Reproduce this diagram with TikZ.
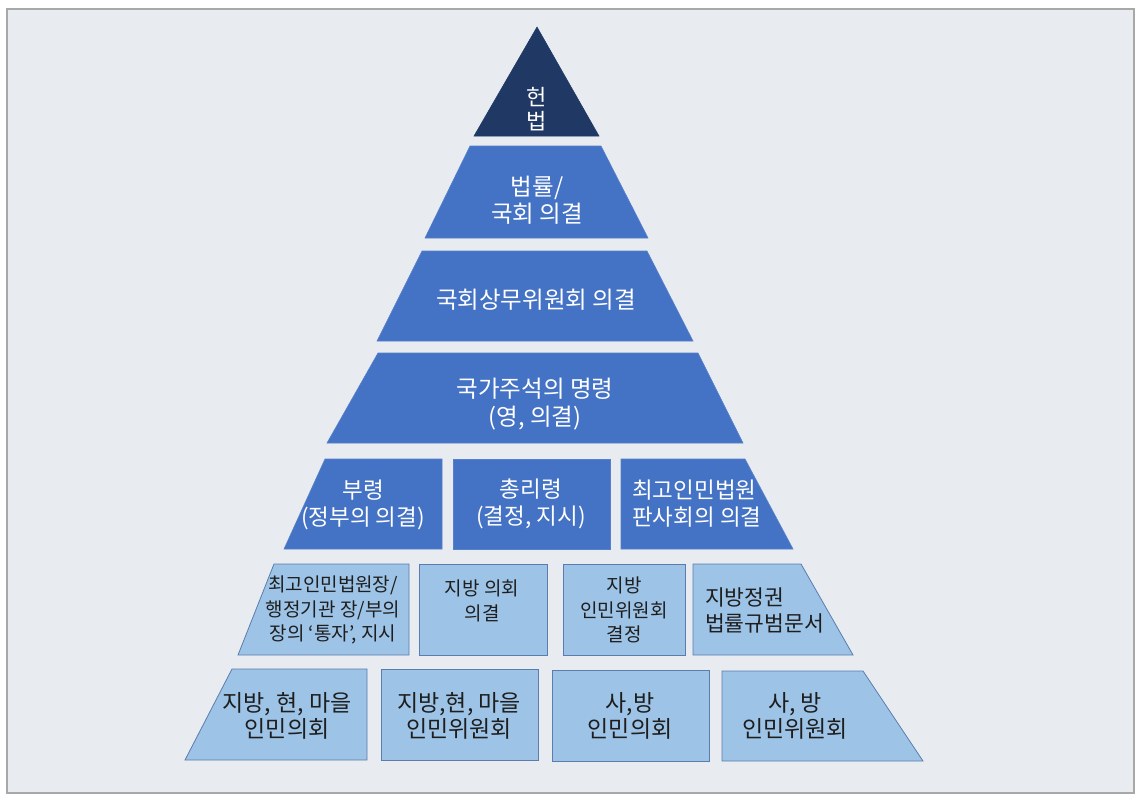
\documentclass[tikz,border=0pt]{standalone}
\usepackage{fontspec}
\setmainfont{Noto Sans CJK KR}
\definecolor{bgc}{HTML}{E8EBF0}
\definecolor{framec}{HTML}{A8A8A8}
\definecolor{navyc}{HTML}{1F3864}
\definecolor{midc}{HTML}{4472C4}
\definecolor{midline}{HTML}{5580CC}
\definecolor{lightc}{HTML}{9DC3E6}
\definecolor{lightline}{HTML}{5A7DAE}
\definecolor{txtc}{HTML}{1E1E1E}
\begin{document}
\begin{tikzpicture}[x=1pt,y=-1pt,
  toptier/.style={fill=navyc,draw=navyc,line width=0.5pt},
  midtier/.style={fill=midc,draw=midline,line width=0.6pt},
  lowtier/.style={fill=lightc,draw=lightline,line width=0.8pt},
  wlabel/.style={text=white,inner sep=0pt,align=center,font=\fontsize{23.5}{27.5}\selectfont},
  rlabel/.style={text=white,inner sep=0pt,align=center,font=\fontsize{22.5}{27}\selectfont},
  dlabel/.style={text=txtc,inner sep=0pt,align=center,font=\fontsize{23}{26.5}\selectfont},
  slabel/.style={text=txtc,inner sep=0pt,align=center,font=\fontsize{19}{24.5}\selectfont}
]
\useasboundingbox (0,0) rectangle (1145,804);
\fill[white] (0,0) rectangle (1145,804);
\draw[framec,fill=bgc,line width=1.5pt] (7,9) rectangle (1134,793);

% apex and upper tiers
\draw[toptier] (537,27) -- (599,136) -- (474,136) -- cycle;
\draw[midtier] (470,146) -- (601,146) -- (648,238) -- (425,238) -- cycle;
\draw[midtier] (422,251) -- (647,251) -- (693,341) -- (377,341) -- cycle;
\draw[midtier] (378,353) -- (698,353) -- (743,443) -- (327,443) -- cycle;

% row 5
\draw[midtier] (325,459) -- (442,459) -- (442,549) -- (284,549) -- cycle;
\draw[midtier] (453,459) -- (610,459) -- (610,549) -- (453,549) -- cycle;
\draw[midtier] (621,459) -- (745,459) -- (793,549) -- (621,549) -- cycle;

% row 6
\draw[lowtier] (274,564) -- (409,564) -- (409,655) -- (238,655) -- cycle;
\draw[lowtier] (419,564) -- (547,564) -- (547,655) -- (419,655) -- cycle;
\draw[lowtier] (563,564) -- (685,564) -- (685,655) -- (563,655) -- cycle;
\draw[lowtier] (693,564) -- (801,564) -- (853,655) -- (693,655) -- cycle;

% row 7
\draw[lowtier] (232,669) -- (367,669) -- (367,760) -- (185,760) -- cycle;
\draw[lowtier] (381,669) -- (538,669) -- (538,760) -- (381,760) -- cycle;
\draw[lowtier] (552,670) -- (709,670) -- (709,761) -- (552,761) -- cycle;
\draw[lowtier] (722,671) -- (863,671) -- (923,761) -- (722,761) -- cycle;

% labels
\node[wlabel,font=\fontsize{22}{24}\selectfont] (hb) at (537,109) {헌\\법};
\node[wlabel] (law) at (537,200) {법률/\\국회 의결};
\node[wlabel] (npcsc) at (536,300) {국회상무위원회 의결};
\node[wlabel] (pres) at (535,404) {국가주석의 명령\\(영, 의결)};

\node[rlabel] (bu) at (363,505) {부령\\(정부의 의결)};
\node[rlabel] (pm) at (531,504) {총리령\\(결정, 지시)};
\node[rlabel,anchor=west,align=left] (sc) at (632,504) {최고인민법원\\판사회의 의결};

\node[slabel] (chief) at (333,610) {최고인민법원장/\\행정기관 장/부의\\장의 ‘통자’, 지시};
\node[slabel] (lcouncil) at (482,601) {지방 의회\\의결};
\node[slabel] (lcomm) at (624,610) {지방\\인민위원회\\결정};
\node[dlabel,anchor=west,align=left,font=\fontsize{21.5}{26}\selectfont] (lgov) at (705,610) {지방정권\\법률규범문서};

\node[dlabel] (d1) at (287,716) {지방, 현, 마을\\인민의회};
\node[dlabel] (d2) at (459,716) {지방,현, 마을\\인민위원회};
\node[dlabel] (d3) at (630,716) {사,방\\인민의회};
\node[dlabel] (d4) at (795,716) {사, 방\\인민위원회};
\end{tikzpicture}
\end{document}
